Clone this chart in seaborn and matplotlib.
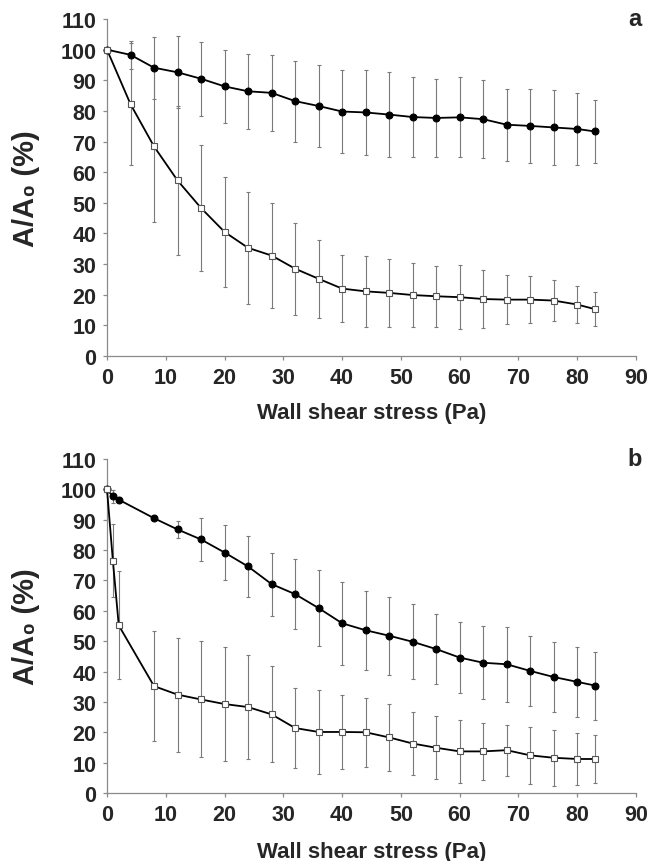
import numpy as np
import pandas as pd
import matplotlib
matplotlib.use("Agg")
import matplotlib.pyplot as plt
import seaborn as sns

# ---------------------------------------------
# data (A/A0 in %, mean +/- sd)
# ---------------------------------------------

# panel a
stress_a = [0, 4, 8, 12, 16, 20, 24, 28, 32, 36, 40, 44, 48, 52, 56, 60, 64, 68, 72, 76, 80, 83]
filled_a = [100, 98.3, 94.1, 92.6, 90.5, 88.0, 86.4, 85.9, 83.2, 81.6, 79.8, 79.5, 78.8, 78.0,
            77.7, 77.9, 77.3, 75.5, 75.1, 74.6, 74.1, 73.3]
filled_a_sd = [0, 4.5, 10.1, 11.8, 12.1, 11.9, 12.2, 12.4, 13.2, 13.5, 13.6, 13.9, 13.8, 13.2,
               12.6, 13.1, 12.8, 11.7, 12.0, 12.2, 11.7, 10.2]
open_a = [100, 82.2, 68.4, 57.3, 48.3, 40.5, 35.3, 32.8, 28.5, 25.2, 22.0, 21.1, 20.6, 19.9,
          19.5, 19.2, 18.6, 18.4, 18.4, 18.1, 16.8, 15.3]
open_a_sd = [0, 19.9, 24.8, 24.4, 20.6, 17.9, 18.3, 17.2, 15.0, 12.8, 10.9, 11.5, 11.2, 10.5,
             9.9, 10.4, 9.5, 8.1, 7.6, 6.8, 5.9, 5.6]

# panel b
stress_b = [0, 1, 2, 8, 12, 16, 20, 24, 28, 32, 36, 40, 44, 48, 52, 56, 60, 64, 68, 72, 76, 80, 83]
filled_b = [100, 97.7, 96.6, 90.5, 86.8, 83.5, 79.2, 74.6, 68.8, 65.5, 60.9, 55.9, 53.6, 51.8,
            49.8, 47.4, 44.6, 42.9, 42.4, 40.2, 38.2, 36.6, 35.4]
filled_b_sd = [0, 2.1, 0.8, 0.6, 2.8, 7.0, 8.9, 9.9, 10.4, 11.5, 12.4, 13.7, 13.0, 12.8,
               12.3, 11.4, 11.7, 12.0, 12.4, 11.4, 11.6, 11.5, 11.2]
open_b = [100, 76.5, 55.2, 35.2, 32.4, 30.8, 29.3, 28.3, 25.9, 21.4, 20.1, 20.1, 20.0, 18.3,
          16.3, 14.9, 13.7, 13.7, 14.1, 12.4, 11.6, 11.2, 11.2]
open_b_sd = [0, 12.1, 17.8, 18.1, 18.8, 19.1, 18.8, 17.0, 15.8, 13.1, 13.8, 12.1, 11.4, 10.9,
             10.5, 10.4, 10.3, 9.3, 8.4, 9.5, 9.3, 8.7, 8.0]

panels = [
    ("a", stress_a, filled_a, filled_a_sd, open_a, open_a_sd),
    ("b", stress_b, filled_b, filled_b_sd, open_b, open_b_sd),
]

# ---------------------------------------------
# style
# ---------------------------------------------

sns.set_style("ticks")
plt.rcParams["font.family"] = ["Liberation Sans", "DejaVu Sans"]
plt.rcParams["font.weight"] = "bold"

spine_col = "#8a8a8a"
err_col = "#7a7a7a"

fig = plt.figure(figsize=(6.64, 8.62), dpi=100)
# axes boxes in pixels: left, top (y=110), bottom (y=0), xlabel top
boxes = [(107, 20, 357, 403), (107, 460, 794, 842)]
W, H = 664, 862

for (letter, x, yf, sf, yo, so), (left, top, bottom, xl_top) in zip(panels, boxes):
    ax = fig.add_axes([left / W, (H - bottom) / H, 529 / W, (bottom - top) / H])

    # error bars first, under the lines
    ax.errorbar(x, yf, yerr=sf, fmt="none", ecolor=err_col, elinewidth=0.8,
                capsize=1.6, capthick=0.8, zorder=1, clip_on=False)
    ax.errorbar(x, yo, yerr=so, fmt="none", ecolor=err_col, elinewidth=0.8,
                capsize=1.6, capthick=0.8, zorder=1, clip_on=False)

    df = pd.DataFrame({"stress": x, "filled": yf, "open": yo})

    sns.lineplot(data=df, x="stress", y="filled", ax=ax, color="black", lw=1.3,
                 marker="o", markersize=5, markerfacecolor="black",
                 markeredgecolor="black", zorder=3, clip_on=False)
    sns.lineplot(data=df, x="stress", y="open", ax=ax, color="black", lw=1.3,
                 marker="s", markersize=4.5, markerfacecolor="white",
                 markeredgecolor="#555555", markeredgewidth=0.8, zorder=3, clip_on=False)

    ax.set_xlim(0, 90)
    ax.set_ylim(0, 110)
    ax.set_xticks(np.arange(0, 91, 10))
    ax.set_yticks(np.arange(0, 111, 10))
    sns.despine(ax=ax)
    for s in ["left", "bottom"]:
        ax.spines[s].set_color(spine_col)
        ax.spines[s].set_linewidth(0.9)
    ax.tick_params(axis="both", direction="out", color=spine_col, width=0.9,
                   labelsize=15.5, length=3)
    ax.tick_params(axis="x", pad=5)
    ax.tick_params(axis="y", pad=4.5)
    for lab in ax.get_xticklabels() + ax.get_yticklabels():
        lab.set_fontweight("bold")

    ax.set_xlabel("Wall shear stress (Pa)", fontsize=16, fontweight="bold")
    ax.xaxis.set_label_coords(0.5, (bottom - xl_top) / (bottom - top))
    ax.xaxis.label.set_va("top")

    ax.set_ylabel("A/A\u2080 (%)", fontsize=21, fontweight="bold")
    ax.yaxis.set_label_coords((40 - left) / 529, 0.5)

    ax.text(635 / W, (H - top) / H, letter, transform=fig.transFigure,
            ha="center", va="center", fontsize=17, fontweight="bold")

fig.savefig("out.png", dpi=100)
